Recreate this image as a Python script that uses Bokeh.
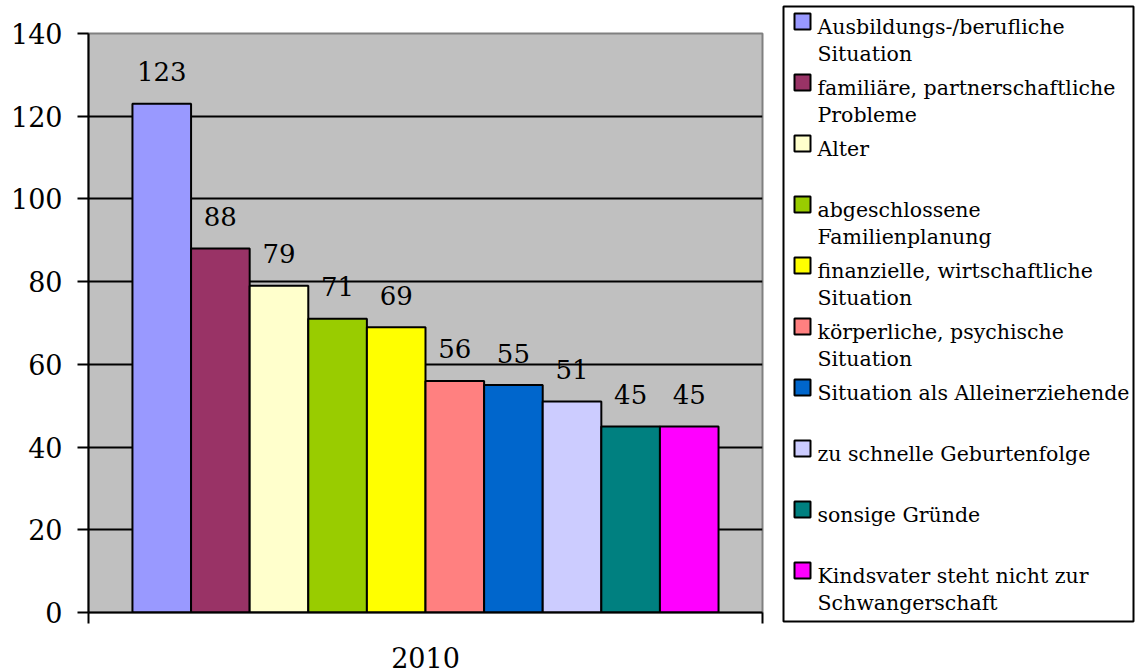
from bokeh.plotting import figure
from bokeh.models import Range1d, FixedTicker, ColumnDataSource
from bokeh.layouts import row
from bokeh.core.properties import value
from bokeh.embed import file_html
from bokeh.resources import INLINE

# ---- data ----
categories = [
    "Ausbildungs-/berufliche\nSituation",
    "familiäre, partnerschaftliche\nProbleme",
    "Alter",
    "abgeschlossene\nFamilienplanung",
    "finanzielle, wirtschaftliche\nSituation",
    "körperliche, psychische\nSituation",
    "Situation als Alleinerziehende",
    "zu schnelle Geburtenfolge",
    "sonsige Gründe",
    "Kindsvater steht nicht zur\nSchwangerschaft",
]
counts = [123, 88, 79, 71, 69, 56, 55, 51, 45, 45]
colors = ["#9999FF", "#993366", "#FFFFCC", "#99CC00", "#FFFF00",
          "#FF8080", "#0066CC", "#CCCCFF", "#008080", "#FF00FF"]
year_label = "2010"
y_ticks = [0, 20, 40, 60, 80, 100, 120, 140]

FONT = "DejaVu Serif"

# ---- main chart ----
n = len(counts)
pad = 0.75
xr = Range1d(-0.5 - pad, n - 0.5 + pad)
p = figure(width=775, height=672, x_range=xr, y_range=Range1d(0, 140),
           output_backend="svg", toolbar_location=None,
           min_border_left=88, min_border_right=13, min_border_top=33,
           min_border_bottom=60)
p.frame_align = False
p.background_fill_color = "#C0C0C0"
p.border_fill_color = "white"
p.outline_line_color = "#808080"
p.outline_line_width = 2

src = ColumnDataSource(dict(x=list(range(n)), top=counts, color=colors,
                            lab=[str(c) for c in counts]))
p.vbar(x="x", top="top", bottom=0, width=1.0, fill_color="color",
       line_color="black", line_width=2, source=src)
p.text(x="x", y="top", text="lab", source=src, text_align="center",
       text_baseline="alphabetic", y_offset=-32,
       text_font=value(FONT), text_font_size="26px", text_color="black")

p.xgrid.visible = False
p.ygrid.ticker = FixedTicker(ticks=y_ticks)
p.ygrid.grid_line_color = "black"
p.ygrid.grid_line_width = 2

ya = p.yaxis[0]
ya.ticker = FixedTicker(ticks=y_ticks)
ya.axis_line_color = "black"
ya.axis_line_width = 2
ya.major_tick_out = 11
ya.major_tick_in = 0
ya.major_tick_line_width = 2
ya.minor_tick_line_color = None
ya.major_label_text_font = FONT
ya.major_label_text_font_size = "27px"
ya.major_label_text_color = "black"
ya.major_label_standoff = 15

xa = p.xaxis[0]
center = (n - 1) / 2
xa.ticker = FixedTicker(ticks=[center], minor_ticks=[xr.start, xr.end])
xa.major_label_overrides = {center: year_label}
xa.major_tick_out = 0
xa.major_tick_in = 0
xa.major_tick_line_color = None
xa.minor_tick_out = 11
xa.minor_tick_in = 0
xa.minor_tick_line_width = 2
xa.minor_tick_line_color = "black"
xa.axis_line_color = "black"
xa.axis_line_width = 2
xa.major_label_text_font = FONT
xa.major_label_text_font_size = "27px"
xa.major_label_text_color = "black"
xa.major_label_standoff = 23

# ---- legend panel ----
LW, LH = 361, 672
lg = figure(width=LW, height=LH, x_range=Range1d(0, LW), y_range=Range1d(LH, 0),
            output_backend="svg", toolbar_location=None, min_border=0,
            min_border_left=0, min_border_right=0, min_border_top=0,
            min_border_bottom=0, x_axis_type=None, y_axis_type=None,
            title=None)
lg.frame_align = False
lg.grid.visible = False
lg.outline_line_color = None
lg.background_fill_color = "white"
lg.border_fill_color = "white"

box_l, box_r, box_t, box_b = 8, 358, 6, 621
lg.quad(left=[box_l], right=[box_r], top=[box_t], bottom=[box_b],
        fill_color="white", line_color="black", line_width=2)

slot = 61
first_base = 26
line_gap = 27
sq_l, sq_size, txt_x = 19, 16, 42
base = [first_base + slot * i for i in range(n)]
first_lines = [c.split("\n")[0] for c in categories]
second_lines = [c.split("\n")[1] if "\n" in c else "" for c in categories]
lsrc = ColumnDataSource(dict(
    l=[sq_l] * n, r=[sq_l + sq_size] * n,
    t=[b - 13 for b in base], b=[b - 13 + sq_size for b in base],
    color=colors, x=[txt_x] * n, y1=base, y2=[b + line_gap for b in base],
    t1=first_lines, t2=second_lines))
lg.quad(left="l", right="r", top="t", bottom="b", fill_color="color",
        line_color="black", line_width=2, source=lsrc)
lg.text(x="x", y="y1", text="t1", source=lsrc, text_baseline="alphabetic",
        text_font=value(FONT), text_font_size="20.5px", text_color="black")
lg.text(x="x", y="y2", text="t2", source=lsrc, text_baseline="alphabetic",
        text_font=value(FONT), text_font_size="20.5px", text_color="black")

layout = row(p, lg)
open("out.html", "w").write(file_html(layout, INLINE))
